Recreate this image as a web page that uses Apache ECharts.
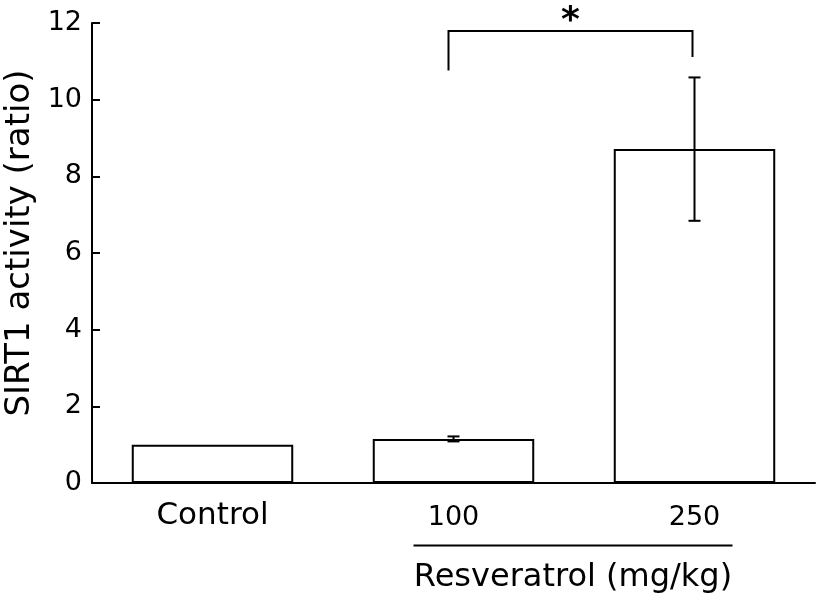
<!DOCTYPE html>
<html>
<head>
<meta charset="utf-8">
<script src="https://cdn.jsdelivr.net/npm/echarts@6/dist/echarts.min.js"></script>
<style>
html,body{margin:0;padding:0;background:#fff;}
#c{width:822px;height:595px;}
</style>
</head>
<body>
<div id="c"></div>
<script>
const categories = ['Control', '100', '250'];
const means = [1.0, 1.15, 8.71];
const sds = [0, 0.065, 1.87];
const yTicks = [0, 2, 4, 6, 8, 10, 12];
const sigPair = [1, 2];
const sigTop = 11.79;
const sigLegEnds = [10.76, 11.11];
const sigLabel = '*';
const groupCats = [1, 2];
const groupLabel = 'Resveratrol (mg/kg)';
const yName = 'SIRT1 activity (ratio)';

const FONT = 'DejaVu Sans';
const chart = echarts.init(document.getElementById('c'), null, {renderer: 'canvas'});

const errData = means.map((m, i) => [i, m - sds[i], m + sds[i]]).filter((d, i) => sds[i] > 0);

const option = {
  animation: false,
  backgroundColor: '#fff',
  grid: {left: 92, right: 7, top: 23, bottom: 112, containLabel: false, outerBoundsMode: 'none'},
  xAxis: {
    type: 'category',
    data: categories,
    boundaryGap: true,
    axisLine: {lineStyle: {color: '#000', width: 2}},
    axisTick: {inside: true, length: 10, lineStyle: {color: '#000', width: 2}},
    axisLabel: {
      margin: 16,
      formatter: v => (v === 'Control' ? '{t|' + v + '}' : '{n|' + v + '}'),
      rich: {
        t: {fontFamily: FONT, fontSize: 31, color: '#000', lineHeight: 34},
        n: {fontFamily: FONT, fontSize: 27, color: '#000', lineHeight: 34, padding: [4, 0, 0, 0]}
      }
    }
  },
  yAxis: {
    type: 'value',
    min: yTicks[0],
    max: yTicks[yTicks.length - 1],
    interval: yTicks[1] - yTicks[0],
    name: yName,
    nameLocation: 'middle',
    nameGap: 54,
    nameTextStyle: {fontFamily: FONT, fontSize: 34, color: '#000', padding: [0, 0, 0, 20]},
    splitLine: {show: false},
    axisLine: {show: true, lineStyle: {color: '#000', width: 2}},
    axisTick: {show: true, inside: true, length: 8, lineStyle: {color: '#000', width: 2}},
    axisLabel: {margin: 10, fontFamily: FONT, fontSize: 27, color: '#000'}
  },
  series: [
    {
      type: 'bar',
      data: means,
      barWidth: '67%',
      itemStyle: {color: '#fff', borderColor: '#000', borderWidth: 2},
      z: 2
    },
    {
      type: 'custom',
      z: 5,
      clip: false,
      data: errData,
      renderItem: function (params, api) {
        const x = api.value(0);
        const lo = api.coord([x, api.value(1)]);
        const hi = api.coord([x, api.value(2)]);
        const w = 6;
        const st = {stroke: '#000', lineWidth: 2, fill: null};
        return {
          type: 'group',
          children: [
            {type: 'line', shape: {x1: hi[0], y1: hi[1], x2: lo[0], y2: lo[1]}, style: st},
            {type: 'line', shape: {x1: hi[0] - w, y1: hi[1], x2: hi[0] + w, y2: hi[1]}, style: st},
            {type: 'line', shape: {x1: lo[0] - w, y1: lo[1], x2: lo[0] + w, y2: lo[1]}, style: st}
          ]
        };
      }
    },
    {
      type: 'custom',
      z: 5,
      clip: false,
      data: [[sigPair[0], sigPair[1], sigTop, sigLegEnds[0], sigLegEnds[1]]],
      renderItem: function (params, api) {
        const a = api.coord([api.value(0), api.value(3)]);
        const b = api.coord([api.value(1), api.value(4)]);
        const ta = api.coord([api.value(0), api.value(2)]);
        const tb = api.coord([api.value(1), api.value(2)]);
        const xa = a[0] - 5, xb = b[0] - 2;
        const st = {stroke: '#000', lineWidth: 2, fill: null};
        return {
          type: 'group',
          children: [
            {type: 'polyline', shape: {points: [[xa, a[1]], [xa, ta[1]], [xb, tb[1]], [xb, b[1]]]}, style: st},
            {type: 'text', style: {text: sigLabel, x: (xa + xb) / 2, y: ta[1] + 9, align: 'center', verticalAlign: 'bottom', font: 'bold 36px "' + FONT + '"', fill: '#000'}}
          ]
        };
      }
    }
  ]
};
chart.setOption(option);

const c1 = chart.convertToPixel({xAxisIndex: 0}, categories[groupCats[0]]);
const c2 = chart.convertToPixel({xAxisIndex: 0}, categories[groupCats[1]]);
const gx1 = c1 - 40, gx2 = c2 + 38;
chart.setOption({
  graphic: [
    {type: 'line', shape: {x1: gx1, y1: 545.5, x2: gx2, y2: 545.5}, style: {stroke: '#000', lineWidth: 2}},
    {type: 'text', x: (gx1 + gx2) / 2, y: 578, style: {text: groupLabel, font: '32px "' + FONT + '"', fill: '#000', align: 'center', verticalAlign: 'middle'}}
  ]
});
</script>
</body>
</html>
